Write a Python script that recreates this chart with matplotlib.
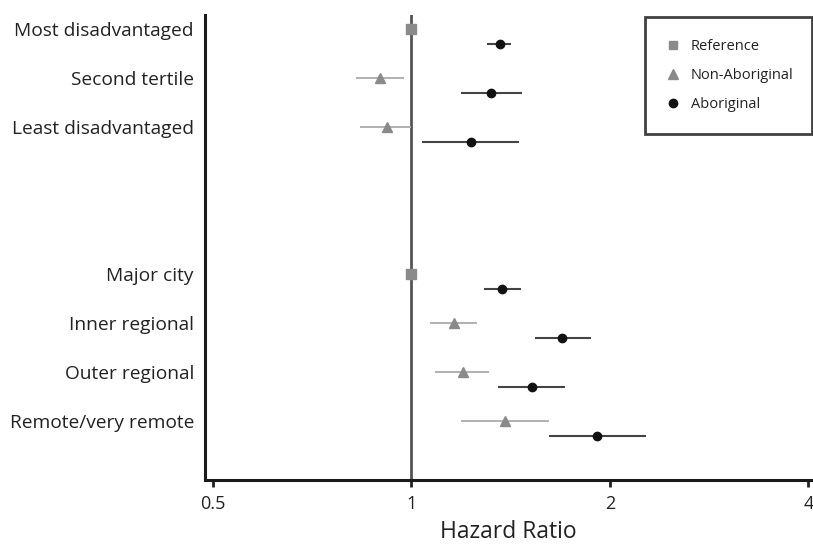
import numpy as np
import matplotlib
matplotlib.use("Agg")
import matplotlib.pyplot as plt
from matplotlib.ticker import FixedLocator, NullLocator
from matplotlib.lines import Line2D

plt.rcParams['font.family'] = ['Open Sans', 'DejaVu Sans']

# 行标签（两组之间空两行）
labels = ["Most disadvantaged", "Second tertile", "Least disadvantaged",
          "Major city", "Inner regional", "Outer regional", "Remote/very remote"]

# 参照组
ref_rows = ["Most disadvantaged", "Major city"]
ref_hr = [1.0, 1.0]

# 非原住民
nab_rows = ["Second tertile", "Least disadvantaged", "Inner regional",
            "Outer regional", "Remote/very remote"]
nab_hr = [0.898, 0.919, 1.160, 1.198, 1.385]
nab_lo = [0.824, 0.836, 1.069, 1.088, 1.188]
nab_hi = [0.975, 1.000, 1.256, 1.314, 1.616]

# 原住民
ab_hr = [1.361, 1.322, 1.230, 1.375, 1.695, 1.525, 1.915]
ab_lo = [1.301, 1.188, 1.038, 1.291, 1.541, 1.356, 1.620]
ab_hi = [1.418, 1.473, 1.456, 1.469, 1.871, 1.711, 2.269]

xticks = [0.5, 1, 2, 4]
xticklabels = ["0.5", "1", "2", "4"]

ypos = dict(zip(labels, np.r_[0:3, 5:9]))
off = 0.31  # 原住民那一行稍微往下挪

fig = plt.figure(figsize=(8.13, 5.5), dpi=100)
ax = fig.add_axes([0.2522, 0.1273, 0.7466, 0.8454])

ax.axvline(1, color='#555555', lw=2.0, zorder=1)

y_ref = [ypos[k] for k in ref_rows]
ax.plot(ref_hr, y_ref, 's', color='#8a8a8a', ms=6.5, zorder=3, clip_on=False)

y_nab = np.array([ypos[k] for k in nab_rows])
nab_hr = np.array(nab_hr)
ax.errorbar(nab_hr, y_nab, xerr=[nab_hr - np.array(nab_lo), np.array(nab_hi) - nab_hr],
            fmt='^', color='#8a8a8a', ecolor='#ababab', elinewidth=1.3, capsize=0,
            ms=7, zorder=3)

y_ab = np.array([ypos[k] for k in labels]) + off
ab_hr = np.array(ab_hr)
ax.errorbar(ab_hr, y_ab, xerr=[ab_hr - np.array(ab_lo), np.array(ab_hi) - ab_hr],
            fmt='o', color='#111111', ecolor='#444444', elinewidth=1.5, capsize=0,
            ms=6, zorder=3)

ax.set_xscale('log')
ax.set_xlim(0.487, 4.05)
ax.xaxis.set_major_locator(FixedLocator(xticks))
ax.xaxis.set_minor_locator(NullLocator())
ax.set_xticklabels(xticklabels, fontsize=13, color='#222222')
ax.tick_params(axis='x', length=5, width=2, pad=6, color='#222222')
ax.set_xlabel("Hazard Ratio", fontsize=16.5, color='#222222', labelpad=5)

ax.set_ylim(9.2, -0.29)
ax.set_yticks([ypos[k] for k in labels])
ax.set_yticklabels(labels, fontsize=13.8, color='#222222')
ax.tick_params(axis='y', length=0, pad=8)

for s in ['top', 'right']:
    ax.spines[s].set_visible(False)
for s in ['left', 'bottom']:
    ax.spines[s].set_linewidth(2.2)
    ax.spines[s].set_color('#1a1a1a')

# 图例只画标记，不画误差线
h = [Line2D([], [], ls='none', marker='s', color='#8a8a8a', ms=6),
     Line2D([], [], ls='none', marker='^', color='#8a8a8a', ms=6.5),
     Line2D([], [], ls='none', marker='o', color='#111111', ms=6)]
l = ['Reference', 'Non-Aboriginal', 'Aboriginal']
leg = fig.legend(h, l, loc='upper left', bbox_to_anchor=(645 / 813, 1 - 17 / 550, 167 / 813, 0),
                 mode='expand', fancybox=False, frameon=True, fontsize=10.5,
                 borderpad=1.5, labelspacing=0.98, handlelength=0.8, handletextpad=0.85,
                 borderaxespad=0)
leg.get_frame().set_edgecolor('#111111')
leg.get_frame().set_linewidth(2)
for t in leg.get_texts():
    t.set_color('#222222')

fig.savefig('out.png', dpi=100)
